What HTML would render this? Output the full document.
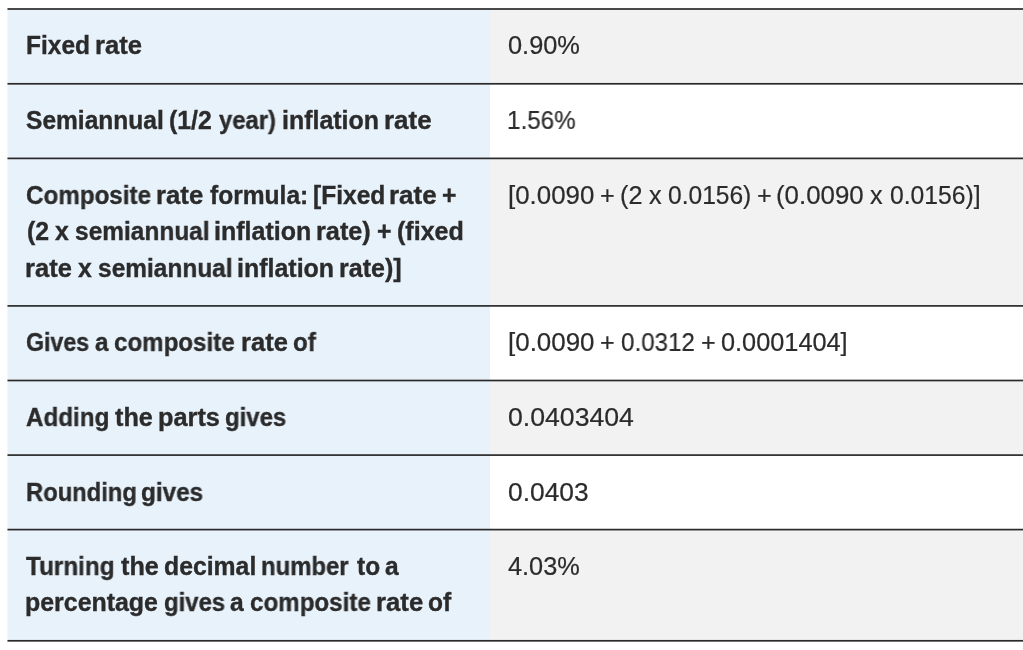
<!DOCTYPE html>
<html><head><meta charset="utf-8"><style>
html,body{margin:0;padding:0;background:#fff;}
body{width:1023px;height:650px;position:relative;overflow:hidden;font-family:"Liberation Sans",sans-serif;color:#2b2b2b;}
.bl{position:absolute;left:7px;width:483px;background:#e8f2fb;}
.br{position:absolute;left:490px;width:533px;}
.ln{position:absolute;left:7px;width:1016px;height:1px;}
.tl,.tr{position:absolute;white-space:nowrap;font-size:24.5px;line-height:40px;transform-origin:0 0;will-change:transform;}
.tl{font-weight:700;-webkit-text-stroke:0.35px #2b2b2b;}
.tr{font-weight:400;-webkit-text-stroke:0.2px #2b2b2b;}
</style></head><body>
<div class="bl" style="top:9px;height:75px"></div>
<div class="br" style="top:9px;height:75px;background:#f2f2f2"></div>
<div class="bl" style="top:84px;height:74px"></div>
<div class="br" style="top:84px;height:74px;background:#fff"></div>
<div class="bl" style="top:158px;height:148px"></div>
<div class="br" style="top:158px;height:148px;background:#f2f2f2"></div>
<div class="bl" style="top:306px;height:74px"></div>
<div class="br" style="top:306px;height:74px;background:#fff"></div>
<div class="bl" style="top:380px;height:75px"></div>
<div class="br" style="top:380px;height:75px;background:#f2f2f2"></div>
<div class="bl" style="top:455px;height:75px"></div>
<div class="br" style="top:455px;height:75px;background:#fff"></div>
<div class="bl" style="top:530px;height:111px"></div>
<div class="br" style="top:530px;height:111px;background:#f2f2f2"></div>
<div class="ln" style="top:8px;background:rgba(42,42,42,0.850)"></div>
<div class="ln" style="top:9px;background:rgba(42,42,42,0.850)"></div>
<div class="ln" style="top:82px;background:rgba(42,42,42,0.050)"></div>
<div class="ln" style="top:83px;background:rgba(42,42,42,1.000)"></div>
<div class="ln" style="top:84px;background:rgba(42,42,42,0.650)"></div>
<div class="ln" style="top:157px;background:rgba(42,42,42,0.450)"></div>
<div class="ln" style="top:158px;background:rgba(42,42,42,1.000)"></div>
<div class="ln" style="top:159px;background:rgba(42,42,42,0.250)"></div>
<div class="ln" style="top:305px;background:rgba(42,42,42,0.950)"></div>
<div class="ln" style="top:306px;background:rgba(42,42,42,0.750)"></div>
<div class="ln" style="top:379px;background:rgba(42,42,42,0.350)"></div>
<div class="ln" style="top:380px;background:rgba(42,42,42,1.000)"></div>
<div class="ln" style="top:381px;background:rgba(42,42,42,0.350)"></div>
<div class="ln" style="top:454px;background:rgba(42,42,42,0.750)"></div>
<div class="ln" style="top:455px;background:rgba(42,42,42,0.950)"></div>
<div class="ln" style="top:528px;background:rgba(42,42,42,0.250)"></div>
<div class="ln" style="top:529px;background:rgba(42,42,42,1.000)"></div>
<div class="ln" style="top:530px;background:rgba(42,42,42,0.450)"></div>
<div class="ln" style="top:639px;background:rgba(42,42,42,0.050)"></div>
<div class="ln" style="top:640px;background:rgba(42,42,42,1.000)"></div>
<div class="ln" style="top:641px;background:rgba(42,42,42,0.650)"></div>
<div class="tl" style="left:25.96px;top:25.40px;transform:scale(0.9959,1.05)">Fixed</div>
<div class="tl" style="left:94.83px;top:25.40px;transform:scale(1.0468,1.05)">rate</div>
<div class="tl" style="left:26.40px;top:100.20px;transform:scale(1.0022,1.05)">Semiannual</div>
<div class="tl" style="left:169.49px;top:100.20px;transform:scale(1.0148,1.05)">(1/2</div>
<div class="tl" style="left:219.00px;top:100.20px;transform:scale(0.9704,1.05)">year)</div>
<div class="tl" style="left:282.17px;top:100.20px;transform:scale(1.0184,1.05)">inflation</div>
<div class="tl" style="left:384.11px;top:100.20px;transform:scale(1.0596,1.05)">rate</div>
<div class="tl" style="left:25.86px;top:174.80px;transform:scale(0.9876,1.05)">Composite</div>
<div class="tl" style="left:155.82px;top:174.80px;transform:scale(1.0503,1.05)">rate</div>
<div class="tl" style="left:209.55px;top:174.80px;transform:scale(1.0031,1.05)">formula:</div>
<div class="tl" style="left:312.55px;top:174.80px;transform:scale(1.0029,1.05)">[Fixed</div>
<div class="tl" style="left:389.31px;top:174.80px;transform:scale(1.0596,1.05)">rate</div>
<div class="tl" style="left:442.11px;top:174.80px;transform:scale(1.0097,1.05)">+</div>
<div class="tl" style="left:26.60px;top:211.20px;transform:scale(1.0140,1.05)">(2</div>
<div class="tl" style="left:55.13px;top:211.20px;transform:scale(1.0140,1.05)">x</div>
<div class="tl" style="left:74.75px;top:211.20px;transform:scale(0.9985,1.05)">semiannual</div>
<div class="tl" style="left:214.17px;top:211.20px;transform:scale(1.0205,1.05)">inflation</div>
<div class="tl" style="left:315.75px;top:211.20px;transform:scale(1.0317,1.05)">rate)</div>
<div class="tl" style="left:376.68px;top:211.20px;transform:scale(1.0140,1.05)">+</div>
<div class="tl" style="left:396.58px;top:211.20px;transform:scale(1.0230,1.05)">(fixed</div>
<div class="tl" style="left:25.44px;top:247.60px;transform:scale(1.0433,1.05)">rate</div>
<div class="tl" style="left:77.92px;top:247.60px;transform:scale(1.0146,1.05)">x</div>
<div class="tl" style="left:97.75px;top:247.60px;transform:scale(0.9985,1.05)">semiannual</div>
<div class="tl" style="left:237.07px;top:247.60px;transform:scale(1.0195,1.05)">inflation</div>
<div class="tl" style="left:339.47px;top:247.60px;transform:scale(1.0222,1.05)">rate)]</div>
<div class="tl" style="left:26.29px;top:322.30px;transform:scale(0.9471,1.05)">Gives</div>
<div class="tl" style="left:94.91px;top:322.30px;transform:scale(0.9847,1.05)">a</div>
<div class="tl" style="left:114.46px;top:322.30px;transform:scale(0.9843,1.05)">composite</div>
<div class="tl" style="left:240.64px;top:322.30px;transform:scale(1.0433,1.05)">rate</div>
<div class="tl" style="left:293.03px;top:322.30px;transform:scale(0.9847,1.05)">of</div>
<div class="tl" style="left:25.81px;top:396.90px;transform:scale(0.9872,1.05)">Adding</div>
<div class="tl" style="left:114.74px;top:396.90px;transform:scale(1.0294,1.05)">the</div>
<div class="tl" style="left:158.05px;top:396.90px;transform:scale(1.0330,1.05)">parts</div>
<div class="tl" style="left:225.07px;top:396.90px;transform:scale(0.9770,1.05)">gives</div>
<div class="tl" style="left:25.74px;top:471.50px;transform:scale(0.9708,1.05)">Rounding</div>
<div class="tl" style="left:141.16px;top:471.50px;transform:scale(0.9918,1.05)">gives</div>
<div class="tl" style="left:26.40px;top:546.00px;transform:scale(0.9903,1.05)">Turning</div>
<div class="tl" style="left:120.84px;top:546.00px;transform:scale(1.0294,1.05)">the</div>
<div class="tl" style="left:164.14px;top:546.00px;transform:scale(1.0112,1.05)">decimal</div>
<div class="tl" style="left:261.24px;top:546.00px;transform:scale(0.9745,1.05)">number</div>
<div class="tl" style="left:356.84px;top:546.00px;transform:scale(0.9965,1.05)">to</div>
<div class="tl" style="left:385.43px;top:546.00px;transform:scale(0.9965,1.05)">a</div>
<div class="tl" style="left:25.27px;top:582.40px;transform:scale(1.0171,1.05)">percentage</div>
<div class="tl" style="left:164.27px;top:582.40px;transform:scale(0.9754,1.05)">gives</div>
<div class="tl" style="left:230.23px;top:582.40px;transform:scale(1.0033,1.05)">a</div>
<div class="tl" style="left:249.56px;top:582.40px;transform:scale(0.9860,1.05)">composite</div>
<div class="tl" style="left:375.82px;top:582.40px;transform:scale(1.0503,1.05)">rate</div>
<div class="tl" style="left:428.26px;top:582.40px;transform:scale(1.0033,1.05)">of</div>
<div class="tr" style="left:508.02px;top:25.40px;transform:scale(1.0353,1.05)">0.90%</div>
<div class="tr" style="left:507.17px;top:100.20px;transform:scale(0.9881,1.05)">1.56%</div>
<div class="tr" style="left:508.30px;top:174.80px;transform:scale(1.0555,1.05)">[0.0090</div>
<div class="tr" style="left:600.21px;top:174.80px;transform:scale(1.0300,1.05)">+</div>
<div class="tr" style="left:620.14px;top:174.80px;transform:scale(1.0300,1.05)">(2</div>
<div class="tr" style="left:648.74px;top:174.80px;transform:scale(1.0300,1.05)">x</div>
<div class="tr" style="left:668.05px;top:174.80px;transform:scale(1.0025,1.05)">0.0156)</div>
<div class="tr" style="left:756.86px;top:174.80px;transform:scale(1.0300,1.05)">+</div>
<div class="tr" style="left:776.12px;top:174.80px;transform:scale(1.0551,1.05)">(0.0090</div>
<div class="tr" style="left:870.04px;top:174.80px;transform:scale(1.0300,1.05)">x</div>
<div class="tr" style="left:889.64px;top:174.80px;transform:scale(1.0091,1.05)">0.0156)]</div>
<div class="tr" style="left:508.25px;top:322.30px;transform:scale(1.0587,1.05)">[0.0090</div>
<div class="tr" style="left:600.38px;top:322.30px;transform:scale(1.0279,1.05)">+</div>
<div class="tr" style="left:621.16px;top:322.30px;transform:scale(0.9863,1.05)">0.0312</div>
<div class="tr" style="left:700.83px;top:322.30px;transform:scale(1.0279,1.05)">+</div>
<div class="tr" style="left:721.33px;top:322.30px;transform:scale(1.0328,1.05)">0.0001404]</div>
<div class="tr" style="left:508.08px;top:396.90px;transform:scale(1.0873,1.05)">0.0403404</div>
<div class="tr" style="left:508.09px;top:471.50px;transform:scale(1.0758,1.05)">0.0403</div>
<div class="tr" style="left:508.38px;top:546.00px;transform:scale(1.0330,1.05)">4.03%</div>
<div style="position:absolute;left:7px;top:0;width:1px;height:650px;background:rgba(255,255,255,0.45)"></div>
</body></html>
